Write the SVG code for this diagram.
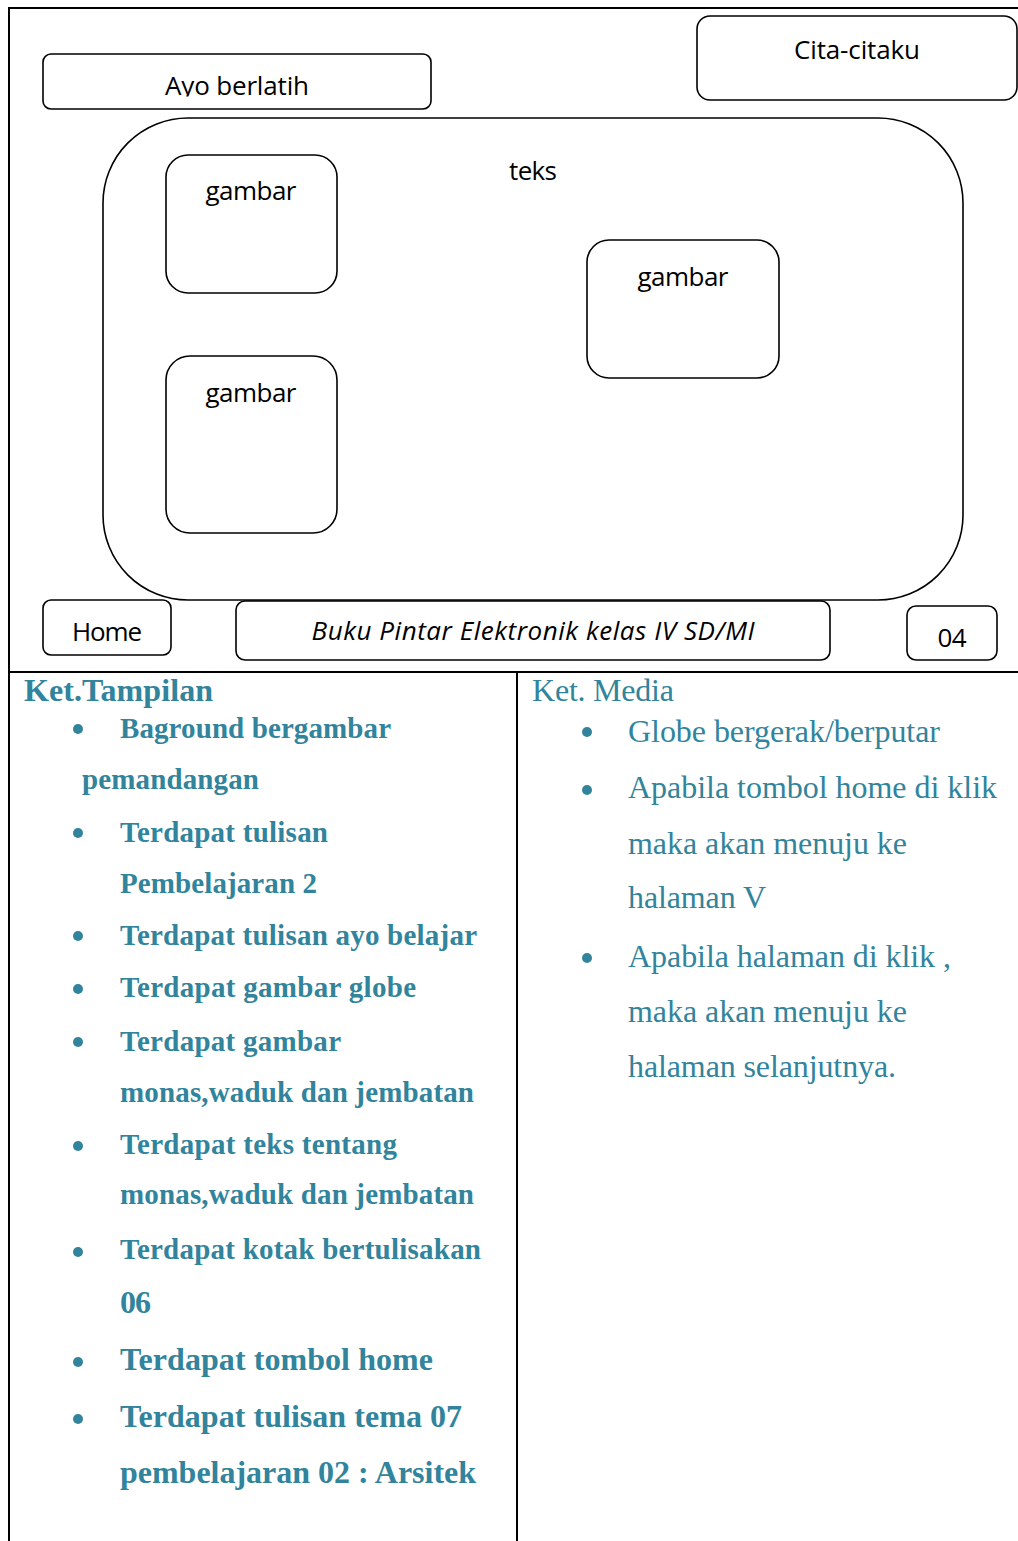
<svg xmlns="http://www.w3.org/2000/svg" width="1018" height="1541" viewBox="0 0 1018 1541">
  <style>
    .frame { fill: none; stroke: #000; stroke-width: 2; }
    .box { fill: #fff; stroke: #000; stroke-width: 1.6; }
    .lbl { font-family: "Open Sans", "Noto Sans", sans-serif; font-size: 26px; fill: #000; }
    .ital { font-style: italic; }
    .head { font-family: "Liberation Serif", "Times New Roman", serif; font-size: 32px; fill: #31849B; }
    .b { font-weight: bold; }
    .t1 { font-family: "Liberation Serif", "Times New Roman", serif; font-weight: bold; font-size: 29px; fill: #31849B; }
    .t1l { font-size: 32px; }
    .t2 { font-family: "Liberation Serif", "Times New Roman", serif; font-size: 32px; fill: #31849B; }
    .dot { fill: #31849B; }
  </style>
  <defs>
    <clipPath id="clipAyo"><rect x="44" y="55" width="386" height="41.5"/></clipPath>
  </defs>
  <rect width="1018" height="1541" fill="#fff"/>

  <!-- page frame and table grid -->
  <g id="frame">
    <path class="frame" d="M9 1541 V8 H1018"/>
    <path class="frame" d="M9 672 H1018"/>
    <path class="frame" d="M517 672 V1541"/>
  </g>

  <!-- screen layout mock-up -->
  <g id="ayo-berlatih">
    <rect class="box" x="43" y="54" width="388" height="55" rx="8"/>
    <text class="lbl" x="237" y="95" text-anchor="middle" textLength="144" clip-path="url(#clipAyo)">Ayo berlatih</text>
  </g>
  <g id="cita-citaku">
    <rect class="box" x="697" y="16" width="320" height="84" rx="13"/>
    <text class="lbl" x="857" y="59" text-anchor="middle" textLength="126">Cita-citaku</text>
  </g>
  <g id="panel">
    <rect class="box" x="103" y="118" width="860" height="482" rx="85"/>
    <text class="lbl" x="533" y="180" text-anchor="middle" textLength="48">teks</text>
  </g>
  <g id="gambar-1">
    <rect class="box" x="166" y="155" width="171" height="138" rx="22"/>
    <text class="lbl" x="251" y="200" text-anchor="middle" textLength="91">gambar</text>
  </g>
  <g id="gambar-2">
    <rect class="box" x="166" y="356" width="171" height="177" rx="24"/>
    <text class="lbl" x="251" y="402" text-anchor="middle" textLength="91">gambar</text>
  </g>
  <g id="gambar-3">
    <rect class="box" x="587" y="240" width="192" height="138" rx="22"/>
    <text class="lbl" x="683" y="286" text-anchor="middle" textLength="91">gambar</text>
  </g>
  <g id="home">
    <rect class="box" x="43" y="600" width="128" height="55" rx="8"/>
    <text class="lbl" x="107" y="641" text-anchor="middle" textLength="70">Home</text>
  </g>
  <g id="judul-buku">
    <rect class="box" x="236" y="601" width="594" height="59" rx="9"/>
    <text class="lbl ital" x="533" y="640" text-anchor="middle" textLength="443">Buku Pintar Elektronik kelas IV SD/MI</text>
  </g>
  <g id="halaman">
    <rect class="box" x="907" y="606" width="90" height="54" rx="9"/>
    <text class="lbl" x="952" y="647" text-anchor="middle" textLength="29">04</text>
  </g>

  <g id="connectors"></g>

  <!-- left column: display notes -->
  <g id="ket-tampilan">
    <text class="head b" x="24" y="701" textLength="189">Ket.Tampilan</text>
    <circle class="dot" cx="78" cy="729" r="5"/>
    <text class="t1" x="120" y="738" textLength="271">Baground bergambar</text>
    <text class="t1" x="82" y="789" textLength="177">pemandangan</text>
    <circle class="dot" cx="78" cy="833" r="5"/>
    <text class="t1" x="120" y="842" textLength="208">Terdapat tulisan</text>
    <text class="t1" x="120" y="893" textLength="197">Pembelajaran 2</text>
    <circle class="dot" cx="78" cy="936" r="5"/>
    <text class="t1" x="120" y="945" textLength="357">Terdapat tulisan ayo belajar</text>
    <circle class="dot" cx="78" cy="989" r="5"/>
    <text class="t1" x="120" y="997" textLength="296">Terdapat gambar globe</text>
    <circle class="dot" cx="78" cy="1042" r="5"/>
    <text class="t1" x="120" y="1051" textLength="221">Terdapat gambar</text>
    <text class="t1" x="120" y="1102" textLength="354">monas,waduk dan jembatan</text>
    <circle class="dot" cx="78" cy="1146" r="5"/>
    <text class="t1" x="120" y="1154" textLength="277">Terdapat teks tentang</text>
    <text class="t1" x="120" y="1204" textLength="354">monas,waduk dan jembatan</text>
    <circle class="dot" cx="78" cy="1252" r="5"/>
    <text class="t1" x="120" y="1259" textLength="361">Terdapat kotak bertulisakan</text>
    <text class="t1 t1l" x="120" y="1313" textLength="31">06</text>
    <circle class="dot" cx="78" cy="1362" r="5"/>
    <text class="t1 t1l" x="120" y="1370" textLength="313">Terdapat tombol home</text>
    <circle class="dot" cx="78" cy="1419" r="5"/>
    <text class="t1 t1l" x="120" y="1427" textLength="342">Terdapat tulisan tema 07</text>
    <text class="t1 t1l" x="120" y="1483" textLength="356">pembelajaran 02 : Arsitek</text>
  </g>

  <!-- right column: media notes -->
  <g id="ket-media">
    <text class="head" x="532" y="701" textLength="142">Ket. Media</text>
    <circle class="dot" cx="587" cy="732" r="5"/>
    <text class="t2" x="628" y="742" textLength="312">Globe bergerak/berputar</text>
    <circle class="dot" cx="587" cy="790" r="5"/>
    <text class="t2" x="628" y="798" textLength="369">Apabila tombol home di klik</text>
    <text class="t2" x="628" y="854" textLength="279">maka akan menuju ke</text>
    <text class="t2" x="628" y="908" textLength="138">halaman V</text>
    <circle class="dot" cx="587" cy="958" r="5"/>
    <text class="t2" x="628" y="967" textLength="323">Apabila halaman di klik ,</text>
    <text class="t2" x="628" y="1022" textLength="279">maka akan menuju ke</text>
    <text class="t2" x="628" y="1077" textLength="268">halaman selanjutnya.</text>
  </g>
</svg>
